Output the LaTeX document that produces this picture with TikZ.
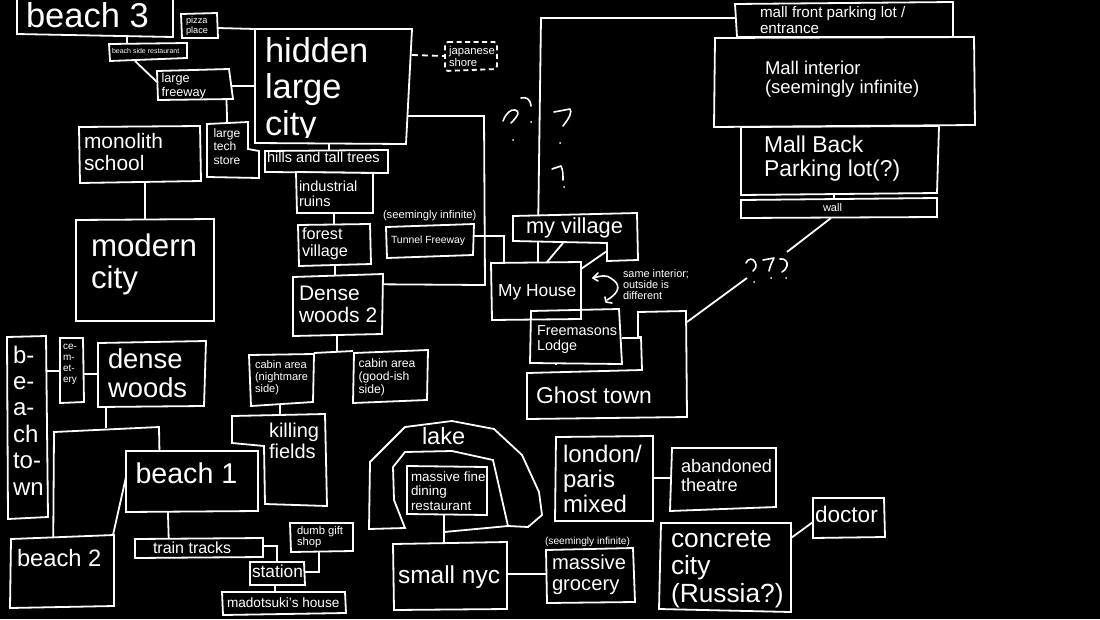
\documentclass[tikz,border=0pt]{standalone}
\usepackage{fontspec}
\setmainfont{Liberation Sans}
\usetikzlibrary{backgrounds}
\tikzset{
  outline/.style={draw=white,line width=1.8pt,line join=miter,fill=black},
  hollow/.style={draw=white,line width=1.8pt,line join=miter},
  conn/.style={draw=white,line width=1.8pt},
  dashconn/.style={draw=white,line width=1.8pt,dash pattern=on 6pt off 4pt},
  scribble/.style={draw=white,line width=1.6pt,line cap=round,line join=round},
  dotmark/.style={fill=white},
  label/.style={text=white,inner sep=0pt,outer sep=0pt,anchor=north west,align=left}
}
\newcommand\bx[3][outline]{\begin{scope}[local bounding box=#2]\path[#1] #3;\end{scope}}
\newcommand\tx[6]{\node[label,font=\fontsize{#4pt}{#5pt}\selectfont] (#1) at (#2,{#3-0.7*#5}) {\strut #6};}
\newcommand\qm[2]{\draw[scribble] #1; \fill[dotmark] (#2) circle (1pt);}
\begin{document}
\begin{tikzpicture}[x=1pt,y=-1pt]
\begin{scope}[on background layer]
  \fill[black] (0,0) rectangle (1100,619);
\end{scope}
% boxes
\bx{beach3}{(17,-5)--(17,34)--(173,37)--(173,-5)--cycle}
\bx{pizza}{(181,14)--(217,13)--(218,38)--(182,38)--cycle}
\bx{seaside}{(109,44)--(187,43)--(187,58)--(110,61)--cycle}
\bx{freeway}{(157,71)--(229,69)--(233,99)--(158,100)--cycle}
\bx{hidden}{(255,29)--(412,29)--(406,144)--(255,143)--cycle}
\bx{tech}{(207,124)--(248,122)--(248,149)--(259,151)--(259,178)--(207,177)--cycle}
\bx{monolith}{(79,127)--(200,126)--(201,181)--(80,183)--cycle}
\bx{modern}{(76,220)--(214,219)--(214,321)--(76,321)--cycle}
\bx{hills}{(265,151)--(388,150)--(388,173)--(265,172)--cycle}
\bx{ruins}{(296,172)--(373,173)--(373,213)--(297,213)--cycle}
\bx{forest}{(298,225)--(370,224)--(371,264)--(299,266)--cycle}
\bx{woodstwo}{(293,277)--(383,274)--(382,334)--(293,336)--cycle}
\bx{cabinn}{(249,355)--(314,354)--(313,402)--(251,406)--cycle}
\bx{cabing}{(354,353)--(428,350)--(427,400)--(353,403)--cycle}
\bx{killing}{(232,416)--(325,414)--(327,506)--(265,504)--(264,446)--(232,443)--cycle}
\bx{tunnel}{(386,227)--(474,224)--(473,255)--(387,258)--cycle}
\bx[hollow,dash pattern=on 5pt off 3.5pt,rounded corners=3pt]{shore}{(445,42)--(497,42)--(497,69)--(445,71)--cycle}
\bx{mallfront}{(735,4)--(953,2)--(953,37)--(737,37)--cycle}
\bx{mallback}{(741,127)--(939,126)--(937,193)--(741,195)--cycle}
\bx{mallin}{(715,38)--(974,37)--(975,125)--(714,127)--cycle}
\bx{wall}{(741,200)--(937,198)--(937,217)--(741,218)--cycle}
\bx{ghost}{(527,373)--(642,370)--(641,337)--(638,337)--(638,312)--(686,311)--(687,417)--(527,419)--cycle}
\bx{village}{(513,216)--(637,213)--(638,260)--(607,261)--(607,243)--(513,241)--cycle}
\bx[hollow]{house}{(491,263)--(581,262)--(581,319)--(492,320)--cycle}
\bx[hollow]{masons}{(531,311)--(619,309)--(622,364)--(530,363)--cycle}
\bx{btown}{(7,337)--(46,336)--(48,517)--(8,519)--cycle}
\bx{cemetery}{(60,338)--(83,338)--(84,402)--(60,403)--cycle}
\bx{dense}{(98,343)--(206,341)--(204,406)--(98,407)--cycle}
\bx{beachone}{(126,451)--(258,451)--(258,511)--(126,512)--cycle}
\bx{beachtwo}{(11,539)--(114,535)--(114,606)--(10,608)--cycle}
\bx{tracks}{(135,539)--(263,538)--(263,557)--(135,558)--cycle}
\bx{station}{(250,562)--(304,562)--(305,585)--(250,585)--cycle}
\bx{gift}{(290,523)--(353,523)--(353,551)--(291,552)--cycle}
\bx{mado}{(222,592)--(345,592)--(346,613)--(223,615)--cycle}
\bx{lake}{(370,462)--(405,427)--(452,421)--(494,429)--(522,455)--(539,492)--(542,515)--(528,527)--(508,526)--(493,460)--(452,451)--(405,452)--(393,467)--(394,500)--(405,528)--(369,529)--cycle}
\bx{dining}{(407,466)--(487,467)--(487,515)--(407,514)--cycle}
\bx{nyc}{(393,544)--(507,542)--(507,609)--(394,610)--cycle}
\bx{grocery}{(546,550)--(633,548)--(635,602)--(547,603)--cycle}
\bx{london}{(556,437)--(653,436)--(653,521)--(555,521)--cycle}
\bx{theatre}{(672,448)--(776,448)--(776,507)--(670,511)--cycle}
\bx{concrete}{(661,523)--(791,523)--(791,612)--(659,609)--cycle}
\bx{doctor}{(813,498)--(884,498)--(885,537)--(813,538)--cycle}
% free ends of connectors
\coordinate (gapa) at (747,278);
\coordinate (gapb) at (787,252);
\coordinate (nota) at (563,243);
\coordinate (notb) at (607,251);
\coordinate (forka) at (106,428);
\coordinate (forkb) at (337,352);
\coordinate (forkc) at (444,532);
\coordinate (forkd) at (508,526);
\coordinate (notch) at (641,338);
% connectors
\begin{scope}[on background layer]
\draw[conn] (beach3.center -| 127,0) -- (seaside.center -| 127,0);
\draw[conn] (pizza.east |- 0,28) -- (hidden.west |- 0,29);
\draw[conn] (seaside.south -| 135,0) -- (freeway.west |- 0,82);
\draw[conn] (freeway.center |- 0,86) -- (hidden.center |- 0,86);
\draw[conn] (freeway.center -| 226,0) -- (tech.center -| 228,0);
\draw[conn] (hidden.center -| 329,0) -- (hills.center -| 329,0);
\draw[conn] (ruins.center -| 334,0) -- (forest.center -| 334,0);
\draw[conn] (forest.center -| 335,0) -- (woodstwo.center -| 335,0);
\draw[conn] (hidden.center |- 0,116) -- (484,116) -- (485,285) -- (woodstwo.center |- 0,284);
\draw[conn] (tunnel.center |- 0,236) -- (504,236) -- (house.north -| 504,0);
\draw[dashconn] (hidden.east |- 0,55) -- (shore.west |- 0,56);
\draw[conn] (woodstwo.center -| 337,0) -- (forkb);
\draw[conn] (cabinn.east |- 0,353) -- (cabing.west |- 0,351);
\draw[conn] (cabinn.center -| 280,0) -- (killing.center -| 280,0);
\draw[conn] (monolith.center -| 145,0) -- (modern.center -| 145,0);
\draw[conn] (village.center -| 538,0) -- (house.north -| 538,0);
\draw[conn] (nota) -- (house.north -| 547,0);
\draw[conn] (notb) -- (house.east |- 0,269);
\draw[conn] (village.center -| 538,0) -- (541,18) -- (mallfront.center |- 0,18);
\draw[conn] (mallback.center -| 834,0) -- (wall.center -| 834,0);
\draw[conn] (masons.south -| 556,0) -- (ghost.center -| 556,0);
\draw[conn] (masons.east |- 0,338) -- (notch);
\draw[conn] (ghost.east |- 0,322) -- (gapa);
\draw[conn] (gapb) -- (wall.south -| 831,0);
\draw[conn] (btown.center |- 0,371) -- (cemetery.center |- 0,371);
\draw[conn] (cemetery.center |- 0,374) -- (dense.center |- 0,374);
\draw[conn] (dense.center -| 106,0) -- (forka);
\draw[conn] (beachtwo.center -| 53,0) -- (54,432) -- (159,427) -- (beachone.center -| 160,0);
\draw[conn] (beachone.west |- 0,477) -- (beachtwo.north -| 113,0);
\draw[conn] (beachone.center -| 167,0) -- (tracks.center -| 169,0);
\draw[conn] (tracks.center |- 0,546) -- (277,546) -- (station.center -| 277,0);
\draw[conn] (station.center |- 0,572) -- (319,572) -- (gift.center -| 319,0);
\draw[conn] (station.center -| 275,0) -- (mado.center -| 275,0);
\draw[conn] (dining.center -| 444,0) -- (nyc.center -| 444,0);
\draw[conn] (forkc) -- (forkd);
\draw[conn] (nyc.center |- 0,574) -- (grocery.center |- 0,574);
\draw[conn] (london.center |- 0,478) -- (theatre.center |- 0,478);
\draw[conn] (concrete.east |- 0,538) -- (doctor.west |- 0,522);
\end{scope}
% question marks
\qm{(503,121) .. controls (506,113) and (511,109) .. (515,110) .. controls (520,111) and (519,115) .. (511,123)}{513,140}
\qm{(521,98) .. controls (526,97) and (530,98) .. (531,106)}{531,122}
\qm{(554,112) -- (570,109) .. controls (572,112) and (570,117) .. (563,126)}{560,143}
\qm{(552,169) -- (561,166) .. controls (563,170) and (563,175) .. (563,180)}{564,187}
\qm{(746,263) .. controls (748,258) and (753,258) .. (755,262) .. controls (757,266) and (756,268) .. (753,271)}{754,282}
\qm{(763,260) -- (774,258) .. controls (772,262) and (770,266) .. (769,271)}{771,278}
\qm{(780,259) .. controls (785,258) and (788,262) .. (787,266) .. controls (786,269) and (784,271) .. (782,272)}{786,278}
% same-interior arrow
\draw[scribble] (593,278) .. controls (600,276) and (607,274) .. (612,279) .. controls (620,284) and (621,292) .. (607,300);
\draw[scribble] (598,273) -- (593,278) -- (598,281);
\draw[scribble] (605,297) -- (606,302) -- (612,303);
% labels
\tx{tbeachthree}{26}{27}{34.5}{37}{beach 3}
\tx{tpizza}{186}{23.5}{9.2}{9.8}{pizza\\place}
\tx{tseaside}{112}{53}{7}{8}{beach side restaurant}
\tx{tfreeway}{161.5}{82}{12.7}{14}{large\\freeway}
\begin{scope}
\clip (255,29) rectangle (406,137);
\tx{thidden}{265}{62}{34.4}{36.7}{hidden\\large\\city}
\end{scope}
\tx{ttech}{213.5}{137}{12.1}{13.5}{large\\tech\\store}
\tx{tmonolith}{84}{148}{20.9}{21.5}{monolith\\school}
\tx{tmodern}{91}{256}{31.3}{32.5}{modern\\city}
\tx{thills}{267}{162}{14.6}{15}{hills and tall trees}
\tx{truins}{299}{191}{14.6}{15.3}{industrial\\ruins}
\tx{tforest}{302}{239}{16.2}{17}{forest\\village}
\tx{twoodstwo}{299}{300}{21}{22}{Dense\\woods 2}
\tx{tcabinn}{255}{368}{11.1}{12}{cabin area\\(nightmare\\side)}
\tx{tcabing}{358.5}{367}{12.2}{12.5}{cabin area\\(good-ish\\side)}
\tx{tkilling}{269}{437}{20}{20.7}{killing\\fields}
\tx{tinfone}{383}{218}{11.2}{12}{(seemingly infinite)}
\tx{ttunnel}{391}{243}{10.4}{11}{Tunnel Freeway}
\tx{tshore}{449}{54}{11.3}{12.7}{japanese\\shore}
\tx{tvillage}{526}{233}{21.8}{23}{my village}
\tx{thouse}{498}{296}{17.4}{18}{My House}
\tx{tmasons}{537}{335}{14.4}{15.7}{Freemasons\\Lodge}
\tx{tghost}{536}{403}{22.9}{24}{Ghost town}
\tx{tsame}{623}{277}{10.9}{11.3}{same interior;\\outside is\\different}
\tx{tmallfront}{760}{17}{15.2}{16.5}{mall front parking lot /\\entrance}
\tx{tmallin}{765}{74}{18.5}{19.3}{Mall interior\\(seemingly infinite)}
\tx{tmallback}{764}{152}{22.9}{24}{Mall Back\\Parking lot(?)}
\tx{twall}{823}{211}{11}{12}{wall}
\tx{tbtown}{13}{363}{24}{26.4}{b-\\e-\\a-\\ch\\to-\\wn}
\tx{tcemetery}{63}{349}{10}{11.3}{ce-\\m-\\et-\\ery}
\tx{tdense}{108}{368}{27.4}{28}{dense\\woods}
\tx{tbeachone}{135.5}{483}{28.6}{30}{beach 1}
\tx{tbeachtwo}{17}{566}{23.7}{25}{beach 2}
\tx{ttracks}{153}{553}{16}{17}{train tracks}
\tx{tstation}{252}{577}{17.3}{18}{station}
\tx{tgift}{297}{534}{11.2}{11.8}{dumb gift\\shop}
\tx{tmado}{227}{607}{13.6}{14}{madotsuki's house}
\tx{tlake}{422}{444}{23.6}{25}{lake}
\tx{tdining}{411}{481}{13.4}{14.5}{massive fine\\dining\\restaurant}
\tx{tnyc}{398}{583}{24.5}{26}{small nyc}
\tx{tinftwo}{545}{544}{10.2}{11}{(seemingly infinite)}
\tx{tgrocery}{552}{569}{20.2}{21.7}{massive\\grocery}
\tx{tlondon}{563}{462}{24}{25}{london/\\paris\\mixed}
\tx{ttheatre}{681}{472}{18.2}{19.3}{abandoned\\theatre}
\tx{tconcrete}{671}{547}{26.3}{27.5}{concrete\\city\\(Russia?)}
\tx{tdoctor}{815}{522}{22.6}{24}{doctor}
\pgfresetboundingbox
\useasboundingbox (0,0) rectangle (1100,619);
\end{tikzpicture}
\end{document}
